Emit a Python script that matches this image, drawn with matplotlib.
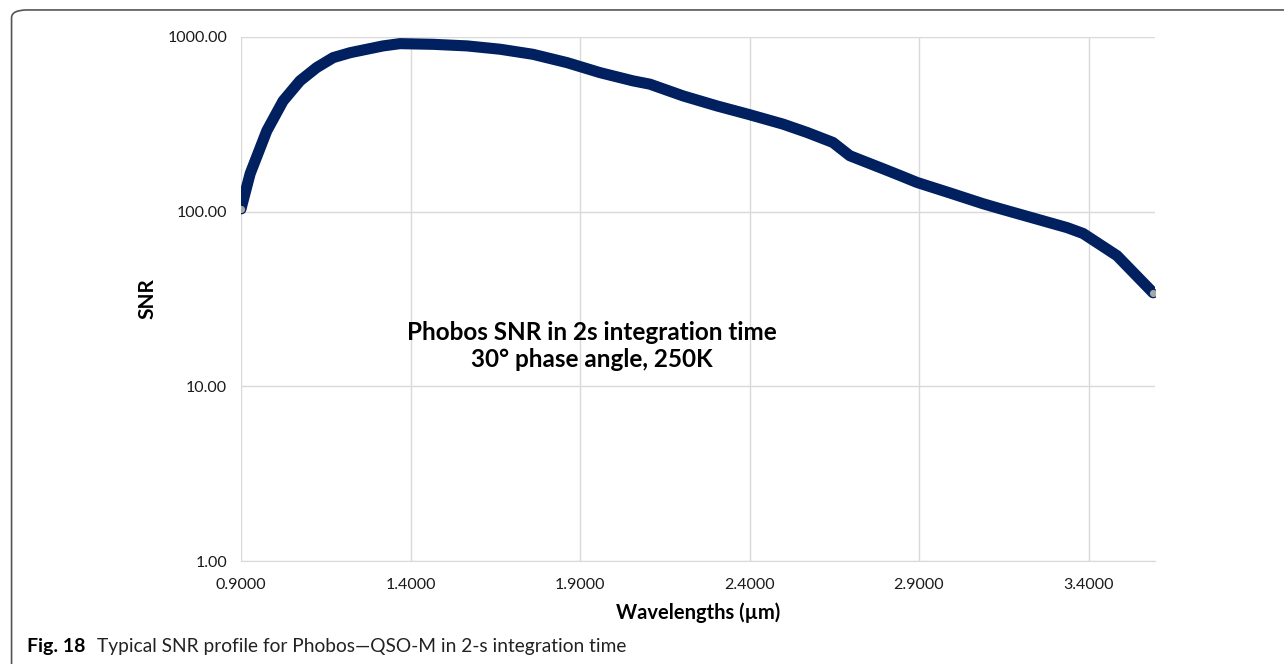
import numpy as np
import matplotlib
matplotlib.use("Agg")
import matplotlib.pyplot as plt
from matplotlib.patches import FancyBboxPatch
from matplotlib.ticker import FixedLocator, FuncFormatter

plt.rcParams['font.family'] = ['Lato', 'DejaVu Sans']

# SNR profile (wavelength in um, SNR)
wavelength = [0.900, 0.927, 0.976, 1.024, 1.074, 1.123, 1.172, 1.222, 1.319, 1.369,
              1.466, 1.567, 1.664, 1.761, 1.862, 1.959, 2.056, 2.106, 2.204, 2.304,
              2.396, 2.499, 2.570, 2.646, 2.696, 2.794, 2.844, 2.894, 2.991, 3.089,
              3.139, 3.236, 3.337, 3.384, 3.484, 3.590]
snr = [104, 165, 290, 430, 561, 668, 762, 813, 889, 916,
       908, 889, 851, 796, 713, 625, 561, 537, 460, 403,
       361, 317, 284, 249, 209, 176, 161, 147, 128, 111,
       104, 92, 81, 75, 56, 34.4]

x_ticks = [0.9, 1.4, 1.9, 2.4, 2.9, 3.4]
y_ticks = [1, 10, 100, 1000]

line_color = '#002060'
grid_color = '#d9d9d9'

fig = plt.figure(figsize=(12.84, 6.64), dpi=100)
ax = fig.add_axes([0.1877, 0.1551, 0.7118, 0.7892])

ax.plot(wavelength, snr, color=line_color, linewidth=8,
        solid_capstyle='round', solid_joinstyle='round', zorder=3)
# end markers
ax.plot([wavelength[0], wavelength[-1]], [snr[0], snr[-1]], 'o', ms=6,
        mfc='#a6a6a6', mec=line_color, mew=0.8, zorder=4)

ax.set_yscale('log')
ax.set_xlim(0.9, 3.596)
ax.set_ylim(1, 1000)
ax.xaxis.set_major_locator(FixedLocator(x_ticks))
ax.yaxis.set_major_locator(FixedLocator(y_ticks))
ax.yaxis.set_minor_locator(FixedLocator([]))
ax.xaxis.set_major_formatter(FuncFormatter(lambda v, p: f"{v:.4f}"))
ax.yaxis.set_major_formatter(FuncFormatter(lambda v, p: f"{v:.2f}"))

ax.grid(True, color=grid_color, linewidth=1)
ax.set_axisbelow(True)
for s in ['top', 'right', 'left']:
    ax.spines[s].set_visible(False)
ax.spines['bottom'].set_color(grid_color)
ax.tick_params(length=0, labelsize=11.5, pad=10)
ax.tick_params(axis='x', pad=12)
for lbl in ax.get_xticklabels() + ax.get_yticklabels():
    lbl.set_color('#1a1a1a')

ax.set_xlabel('Wavelengths (µm)', fontsize=14.5, fontweight='bold', labelpad=8)
ax.set_ylabel('SNR', fontsize=15, fontweight='bold', labelpad=7)

ax.text(0.384, 0.41, 'Phobos SNR in 2s integration time\n30° phase angle, 250K',
        transform=ax.transAxes, ha='center', va='center', fontsize=17.5,
        fontweight='bold', linespacing=1.2)

# frame around the figure (open at the bottom edge)
frame = FancyBboxPatch((0.009, -0.02), 1.2, 1.005, boxstyle='round,pad=0,rounding_size=0.012',
                       transform=fig.transFigure, fill=False, edgecolor='#555555',
                       linewidth=1.2, clip_on=False)
fig.patches.append(frame)

fig.text(0.021, 0.026, 'Fig. 18', fontsize=14, fontweight='bold', va='center')
fig.text(0.0755, 0.026, 'Typical SNR profile for Phobos—QSO-M in 2-s integration time',
         fontsize=13.8, va='center', color='#222222')

fig.savefig('out.png', dpi=100)
